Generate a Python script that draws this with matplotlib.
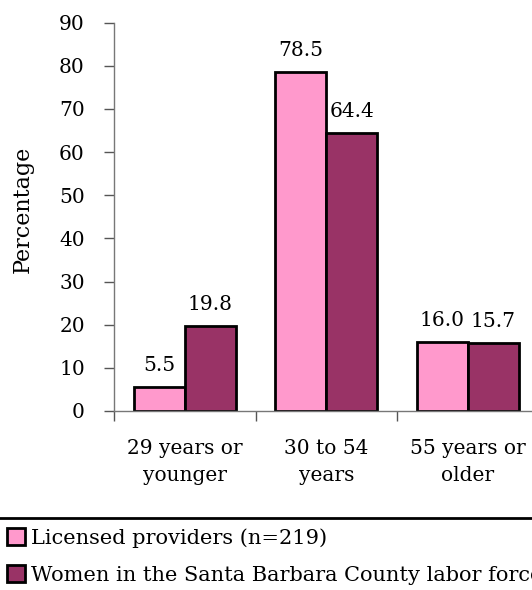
import matplotlib
matplotlib.use('Agg')
import matplotlib.pyplot as plt
import numpy as np
from matplotlib.lines import Line2D

# age groups and shares (%)
categories = ['29 years or\nyounger', '30 to 54\nyears', '55 years or\nolder']
licensed = [5.5, 78.5, 16.0]
labor_force = [19.8, 64.4, 15.7]
series_names = ['Licensed providers (n=219)',
                'Women in the Santa Barbara County labor force']
colors = ['#FF99CC', '#993366']

plt.rcParams['font.family'] = ['DejaVu Serif']
W, H = 532, 590
fig = plt.figure(figsize=(W/100, H/100), dpi=100)
ax = fig.add_axes([114/W, 1-411/H, 424.5/W, (411-22.7)/H])

x = np.arange(len(categories))
bw = 0.36
bars1 = ax.bar(x - bw/2, licensed, bw, color=colors[0], edgecolor='black', linewidth=2, label=series_names[0])
bars2 = ax.bar(x + bw/2, labor_force, bw, color=colors[1], edgecolor='black', linewidth=2, label=series_names[1])

for bars, vals in ((bars1, licensed), (bars2, labor_force)):
    for b, v in zip(bars, vals):
        ax.text(b.get_x() + b.get_width()/2, v + 3.7, '%.1f' % v,
                ha='center', va='baseline', fontsize=14.5)

ax.set_xlim(-0.5, 2.5)
ax.set_ylim(0, 90)
ax.set_yticks(range(0, 91, 10))
ax.set_xticks(x)
ax.set_xticklabels(categories, fontsize=14.5, linespacing=1.55)
ax.set_xticks([-0.5, 0.5, 1.5, 2.5], minor=True)
ax.tick_params(axis='x', which='major', length=0, pad=20)
ax.tick_params(axis='x', which='minor', length=7, color='#555555', width=1)
ax.tick_params(axis='y', length=7, color='#555555', width=1, labelsize=14.5, pad=14)
for s in ('top', 'right'):
    ax.spines[s].set_visible(False)
for s in ('left', 'bottom'):
    ax.spines[s].set_color('#777777')
    ax.spines[s].set_linewidth(1)
ax.set_ylabel('Percentage', fontsize=16)
ax.yaxis.set_label_coords(-0.189, 0.52)

# legend band below the plot
fig.add_artist(Line2D([0, 1], [1-517.5/H, 1-517.5/H], color='black', linewidth=2))
fig.legend(handles=[bars1, bars2], labels=series_names, loc='upper left',
           bbox_to_anchor=(0.009, 1-526/H), frameon=False, fontsize=15,
           handlelength=0.85, handleheight=0.85, handletextpad=0.3,
           labelspacing=0.85, borderaxespad=0, borderpad=0.1)

fig.savefig('out.png', dpi=100)
